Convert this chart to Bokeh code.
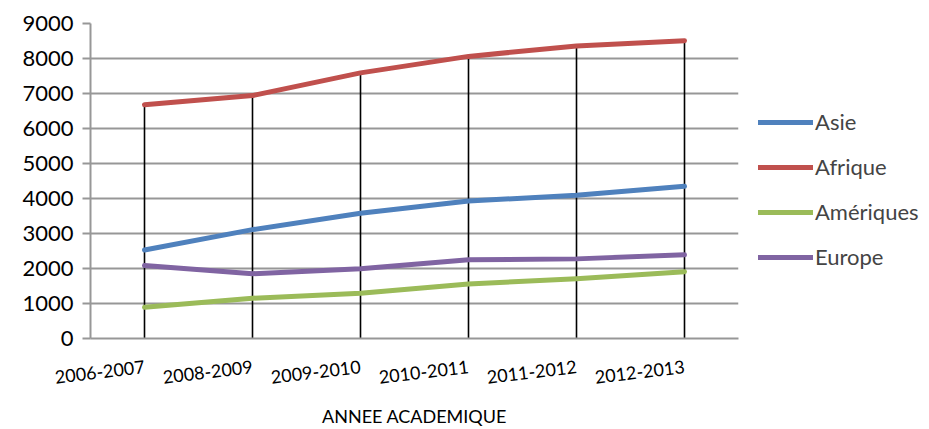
from bokeh.plotting import figure
from bokeh.models import FactorRange, Range1d, FixedTicker, Legend, LegendItem
from bokeh.embed import file_html
from bokeh.resources import INLINE

years = ["2006-2007", "2008-2009", "2009-2010", "2010-2011", "2011-2012", "2012-2013"]
asie = [2530, 3110, 3580, 3930, 4090, 4350]
afrique = [6680, 6940, 7590, 8060, 8360, 8510]
ameriques = [890, 1150, 1295, 1560, 1705, 1910]
europe = [2085, 1850, 1990, 2250, 2275, 2390]
y_ticks = [0, 1000, 2000, 3000, 4000, 5000, 6000, 7000, 8000, 9000]

series = [
    ("Asie", asie, "#4F81BD"),
    ("Afrique", afrique, "#C0504D"),
    ("Amériques", ameriques, "#9BBB59"),
    ("Europe", europe, "#8064A2"),
]

FONT = "Lato"

p = figure(x_range=FactorRange(*years, range_padding=0), y_range=Range1d(0, 9000),
           frame_width=648, frame_height=315,
           min_border_left=90, min_border_top=23, min_border_bottom=88, min_border_right=10,
           output_backend="svg", toolbar_location=None)
p.outline_line_color = None
p.background_fill_color = "white"

# drop lines
tops = [max(vals) for vals in zip(asie, afrique, ameriques, europe)]
p.segment(x0=years, y0=[0] * len(years), x1=years, y1=tops, line_color="black", line_width=1.6)

items = []
for name, vals, col in series:
    r = p.line(years, vals, line_color=col, line_width=5, line_cap="round", line_join="round")
    items.append(LegendItem(label=name, renderers=[r]))

p.yaxis.ticker = FixedTicker(ticks=y_ticks)
p.ygrid.ticker = FixedTicker(ticks=y_ticks)
p.ygrid.grid_line_color = "#979797"
p.ygrid.grid_line_width = 2
p.xgrid.grid_line_color = None

p.yaxis.axis_line_color = "#979797"
p.yaxis.axis_line_width = 2
p.yaxis.major_tick_line_color = "#979797"
p.yaxis.major_tick_line_width = 2
p.yaxis.major_tick_out = 8
p.yaxis.major_tick_in = 0
p.yaxis.minor_tick_line_color = None
p.yaxis.major_label_text_font = FONT
p.yaxis.major_label_text_font_size = "22px"
p.yaxis.major_label_text_color = "black"
p.yaxis.major_label_standoff = 9

p.xaxis.axis_line_color = "#979797"
p.xaxis.axis_line_width = 2
p.xaxis.major_tick_line_color = None
p.xaxis.minor_tick_line_color = None
p.xaxis.major_label_orientation = 0.12
p.xaxis.major_label_text_font = FONT
p.xaxis.major_label_text_font_size = "18px"
p.xaxis.major_label_text_color = "black"
p.xaxis.major_label_standoff = 22
p.xaxis.axis_label = "ANNEE ACADEMIQUE"
p.xaxis.axis_label_text_font = FONT
p.xaxis.axis_label_text_font_size = "18px"
p.xaxis.axis_label_text_font_style = "normal"
p.xaxis.axis_label_text_color = "black"
p.xaxis.axis_label_standoff = 12

legend = Legend(items=items, location=(20, 68), margin=0, padding=0,
                glyph_width=55, glyph_height=20, spacing=18, label_standoff=2,
                label_text_font=FONT, label_text_font_size="22px",
                border_line_color=None, background_fill_alpha=0)
p.add_layout(legend, "right")

open("out.html", "w").write(file_html(p, INLINE))
